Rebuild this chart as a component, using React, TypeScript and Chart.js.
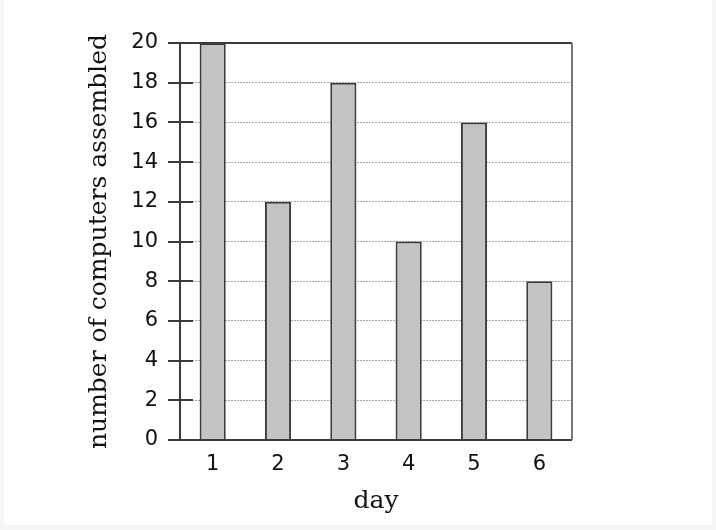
import React, { useEffect, useRef } from 'react';
import { Chart, registerables } from 'chart.js';

Chart.register(...registerables);

const days = ['1', '2', '3', '4', '5', '6'];
const computersAssembled = [20, 12, 18, 10, 16, 8];
const yTicks = [0, 2, 4, 6, 8, 10, 12, 14, 16, 18, 20];

// plot frame + short tick marks crossing the y axis
const framePlugin = {
  id: 'frame',
  afterDatasetsDraw(chart: any) {
    const { ctx, chartArea: a } = chart;
    const y = chart.scales.y;
    ctx.save();
    ctx.strokeStyle = '#3a3a3a';
    ctx.lineWidth = 2;
    yTicks.forEach((v) => {
      const py = Math.round(y.getPixelForValue(v));
      ctx.beginPath();
      ctx.moveTo(a.left - 12, py);
      ctx.lineTo(a.left + 13, py);
      ctx.stroke();
    });
    ctx.beginPath();
    ctx.moveTo(a.right, a.top);
    ctx.lineTo(a.left, a.top);
    ctx.lineTo(a.left, a.bottom);
    ctx.lineTo(a.right, a.bottom);
    ctx.stroke();
    ctx.strokeStyle = '#777';
    ctx.lineWidth = 2;
    ctx.beginPath();
    ctx.moveTo(a.right, a.top);
    ctx.lineTo(a.right, a.bottom);
    ctx.stroke();
    ctx.restore();
  },
};

const App = () => {
  const chartRef = useRef<HTMLCanvasElement>(null);

  useEffect(() => {
    document.body.style.margin = '0';
    if (!chartRef.current) return;
    const chart = new Chart(chartRef.current, {
      type: 'bar',
      data: {
        labels: days,
        datasets: [
          {
            data: computersAssembled,
            backgroundColor: '#c4c4c4',
            borderColor: '#3a3a3a',
            borderWidth: 2,
            barPercentage: 0.4,
            categoryPercentage: 1,
          },
        ],
      },
      options: {
        animation: false,
        responsive: false,
        layout: { padding: { left: 0, right: 140, top: 43, bottom: 0 } },
        plugins: { legend: { display: false }, tooltip: { enabled: false } },
        scales: {
          x: {
            afterFit: (s: any) => {
              s.height = 85;
            },
            grid: { display: false, drawTicks: false },
            border: { display: false },
            ticks: {
              padding: 12,
              color: '#111',
              font: { family: 'DejaVu Sans', size: 21 },
            },
            title: {
              display: true,
              text: 'day',
              color: '#111',
              font: { family: 'DejaVu Serif', size: 25 },
              padding: { top: 0, bottom: 9 },
            },
          },
          y: {
            min: 0,
            max: 20,
            afterFit: (s: any) => {
              s.width = 176;
            },
            afterBuildTicks: (s: any) => {
              s.ticks = yTicks.map((v) => ({ value: v }));
            },
            grid: {
              drawTicks: false,
              color: (c: any) => (c.tick && (c.tick.value === 0 || c.tick.value === 20) ? 'rgba(0,0,0,0)' : '#a8a8a8'),
              lineWidth: 1,
            },
            border: { display: false, dash: [2, 1] },
            ticks: {
              padding: 22,
              color: '#111',
              font: { family: 'DejaVu Sans', size: 21 },
            },
            title: {
              display: true,
              text: 'number of computers assembled',
              color: '#111',
              font: { family: 'DejaVu Serif', size: 25 },
              padding: { top: 80, bottom: 0 },
            },
          },
        },
      },
      plugins: [framePlugin],
    });
    return () => {
      chart.destroy();
    };
  }, []);

  return (
    <div style={{ width: 716, height: 530, background: '#f6f6f6', position: 'relative' }}>
      <div style={{ position: 'absolute', left: 4, top: 0, width: 708, height: 525, background: '#fff' }}>
        <canvas ref={chartRef} width={708} height={525} style={{ display: 'block' }} />
      </div>
    </div>
  );
};

export default App;
